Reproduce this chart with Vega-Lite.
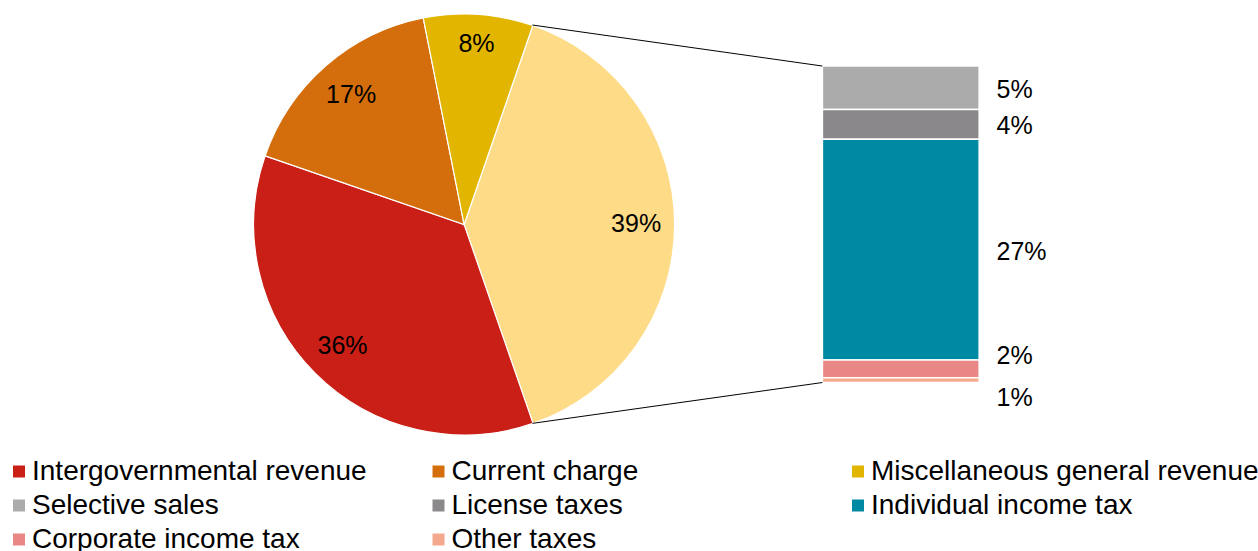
{
  "$schema": "https://vega.github.io/schema/vega-lite/v6.json",
  "width": 1258,
  "height": 551,
  "autosize": {"type": "none"},
  "padding": 0,
  "background": "white",
  "config": {"view": {"stroke": null}, "font": "Liberation Sans"},
  "datasets": {
    "pie": [
      {"category": "Taxes", "share": 0.394},
      {"category": "Intergovernmental revenue", "share": 0.356},
      {"category": "Current charge", "share": 0.166},
      {"category": "Miscellaneous general revenue", "share": 0.084}
    ],
    "bar": [
      {"category": "Selective sales", "share": 0.054, "rank": 5},
      {"category": "License taxes", "share": 0.037, "rank": 4},
      {"category": "Individual income tax", "share": 0.274, "rank": 3},
      {"category": "Corporate income tax", "share": 0.022, "rank": 2},
      {"category": "Other taxes", "share": 0.006, "rank": 1}
    ],
    "one": [{}]
  },
  "resolve": {"scale": {"x": "shared", "y": "shared", "color": "shared"}},
  "layer": [
    {
      "data": {"name": "pie"},
      "mark": {"type": "arc", "outerRadius": 210.5, "stroke": "white", "strokeWidth": 1.2},
      "encoding": {
        "x": {"datum": 0.5747, "type": "quantitative", "scale": {"domain": [0, 1.5622], "nice": false, "zero": false}, "axis": null},
        "y": {"datum": 0.1962, "type": "quantitative", "scale": {"domain": [-0.2092, 0.475], "nice": false, "zero": false}, "axis": null},
        "theta": {"field": "share", "type": "quantitative", "stack": true, "scale": {"range": [0.3325, 6.6157]}},
        "order": {"field": "share", "sort": "descending"},
        "color": {
          "field": "category",
          "type": "nominal",
          "scale": {
            "domain": ["Intergovernmental revenue", "Current charge", "Miscellaneous general revenue", "Selective sales", "License taxes", "Individual income tax", "Corporate income tax", "Other taxes", "Taxes"],
            "range": ["#C91F16", "#D46E0C", "#E2B500", "#ABABAB", "#8A888A", "#0089A3", "#E98787", "#F4A98C", "#FEDB87"]
          },
          "legend": {
            "values": ["Intergovernmental revenue", "Current charge", "Miscellaneous general revenue", "Selective sales", "License taxes", "Individual income tax", "Corporate income tax", "Other taxes"],
            "title": null,
            "orient": "none",
            "direction": "horizontal",
            "legendX": 5,
            "legendY": 457.5,
            "columns": 3,
            "gridAlign": "all",
            "columnPadding": 4.5,
            "rowPadding": 6,
            "padding": 0,
            "symbolType": "square",
            "symbolSize": 144,
            "symbolStrokeWidth": 0,
            "labelOffset": -1,
            "labelFont": "Liberation Sans",
            "labelFontSize": 28,
            "labelColor": "black",
            "labelLimit": 0
          }
        }
      }
    },
    {
      "data": {"name": "pie"},
      "mark": {"type": "text", "radius": 172, "fontSize": 25, "color": "black", "font": "Liberation Sans"},
      "encoding": {
        "x": {"datum": 0.5747, "type": "quantitative"},
        "y": {"datum": 0.1962, "type": "quantitative"},
        "theta": {"field": "share", "type": "quantitative", "stack": true},
        "order": {"field": "share", "sort": "descending"},
        "detail": {"field": "category"},
        "text": {"condition": {"test": "datum.category !== 'Miscellaneous general revenue'", "field": "share", "type": "quantitative", "format": ".0%"}, "value": ""}
      }
    },
    {
      "data": {"name": "pie"},
      "mark": {"type": "text", "radius": 181, "fontSize": 25, "color": "black", "font": "Liberation Sans"},
      "encoding": {
        "x": {"datum": 0.5747, "type": "quantitative"},
        "y": {"datum": 0.1962, "type": "quantitative"},
        "theta": {"field": "share", "type": "quantitative", "stack": true},
        "order": {"field": "share", "sort": "descending"},
        "detail": {"field": "category"},
        "text": {"condition": {"test": "datum.category === 'Miscellaneous general revenue'", "field": "share", "type": "quantitative", "format": ".0%"}, "value": ""}
      }
    },
    {
      "data": {"name": "bar"},
      "mark": {"type": "bar", "orient": "vertical", "stroke": "white", "strokeWidth": 1.5},
      "encoding": {
        "x": {"datum": 1.0232, "type": "quantitative"},
        "x2": {"datum": 1.2194},
        "y": {"field": "share", "type": "quantitative", "stack": "zero"},
        "order": {"field": "rank", "sort": "ascending"},
        "color": {"field": "category", "type": "nominal"}
      }
    },
    {
      "data": {"name": "bar"},
      "mark": {"type": "text", "align": "left", "baseline": "middle", "fontSize": 25, "color": "black", "font": "Liberation Sans", "dy": 2},
      "encoding": {
        "x": {"datum": 1.2412, "type": "quantitative"},
        "y": {"field": "share", "type": "quantitative", "stack": "zero", "bandPosition": 0.5},
        "order": {"field": "rank", "sort": "ascending"},
        "detail": {"field": "category"},
        "text": {"condition": {"test": "datum.rank >= 3", "field": "share", "type": "quantitative", "format": ".0%"}, "value": ""}
      }
    },
    {
      "data": {"name": "bar"},
      "mark": {"type": "text", "align": "left", "baseline": "middle", "fontSize": 25, "color": "black", "font": "Liberation Sans", "dy": -13},
      "encoding": {
        "x": {"datum": 1.2412, "type": "quantitative"},
        "y": {"field": "share", "type": "quantitative", "stack": "zero", "bandPosition": 0.5},
        "order": {"field": "rank", "sort": "ascending"},
        "detail": {"field": "category"},
        "text": {"condition": {"test": "datum.rank === 2", "field": "share", "type": "quantitative", "format": ".0%"}, "value": ""}
      }
    },
    {
      "data": {"name": "bar"},
      "mark": {"type": "text", "align": "left", "baseline": "middle", "fontSize": 25, "color": "black", "font": "Liberation Sans", "dy": 18},
      "encoding": {
        "x": {"datum": 1.2412, "type": "quantitative"},
        "y": {"field": "share", "type": "quantitative", "stack": "zero", "bandPosition": 0.5},
        "order": {"field": "rank", "sort": "ascending"},
        "detail": {"field": "category"},
        "text": {"condition": {"test": "datum.rank === 1", "field": "share", "type": "quantitative", "format": ".0%"}, "value": ""}
      }
    },
    {
      "data": {"name": "one"},
      "mark": {"type": "rule", "color": "black", "strokeWidth": 1},
      "encoding": {
        "x": {"datum": 0.6602, "type": "quantitative"},
        "y": {"datum": 0.4439, "type": "quantitative"},
        "x2": {"datum": 1.0232},
        "y2": {"datum": 0.393}
      }
    },
    {
      "data": {"name": "one"},
      "mark": {"type": "rule", "color": "black", "strokeWidth": 1},
      "encoding": {
        "x": {"datum": 0.6602, "type": "quantitative"},
        "y": {"datum": -0.0507, "type": "quantitative"},
        "x2": {"datum": 1.0232},
        "y2": {"datum": 0}
      }
    }
  ]
}
